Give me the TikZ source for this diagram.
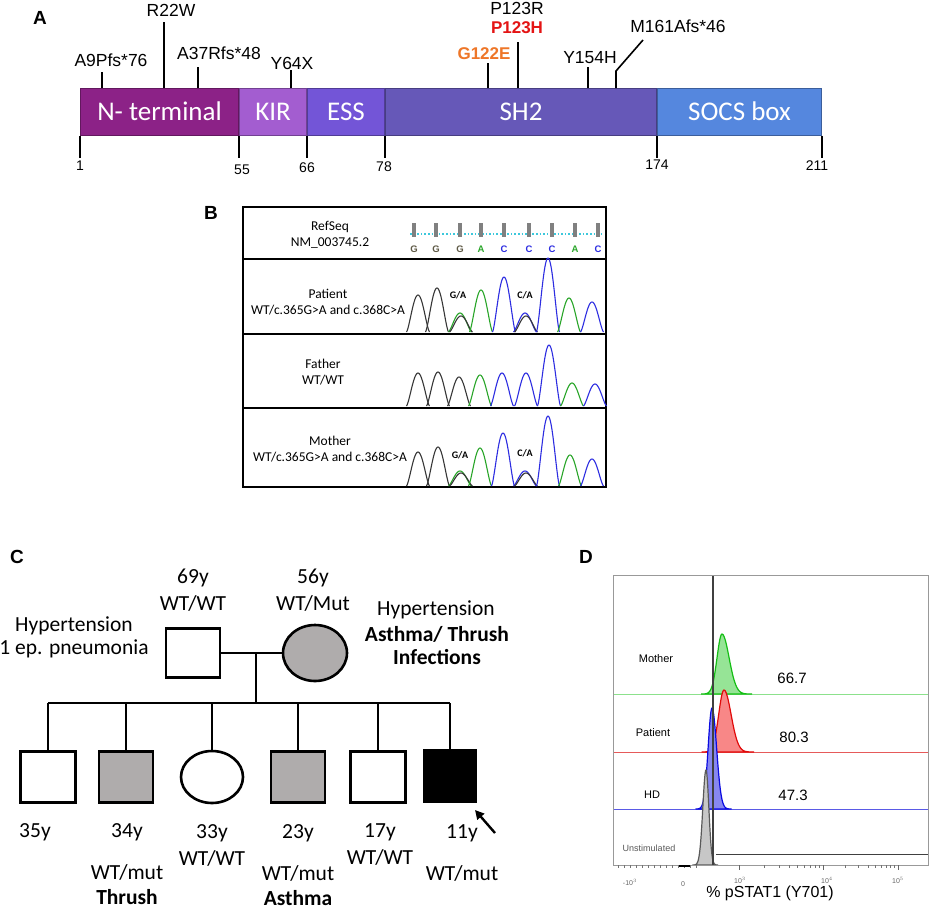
\documentclass[tikz,border=0pt]{standalone}
\usepackage{fontspec}
\setmainfont{Liberation Sans}
\newfontfamily\calfont{Carlito}
\usetikzlibrary{arrows.meta,calc,shapes.geometric}
\newcommand{\myfs}[1]{\fontsize{#1}{#1}\selectfont}
\definecolor{nterm}{RGB}{140,34,135}
\definecolor{kir}{RGB}{163,93,208}
\definecolor{ess}{RGB}{115,85,215}
\definecolor{sh2}{RGB}{102,88,184}
\definecolor{socs}{RGB}{85,135,222}
\definecolor{morange}{RGB}{238,118,40}
\definecolor{mred}{RGB}{228,20,20}
\definecolor{pgray}{RGB}{175,172,172}
\definecolor{cgreen}{RGB}{40,165,40}
\definecolor{cblue}{RGB}{45,45,225}
\definecolor{cblack}{RGB}{55,55,55}
\definecolor{refg}{RGB}{95,90,70}
\definecolor{refcyan}{RGB}{60,200,220}
\definecolor{dgreen}{RGB}{20,190,20}
\definecolor{dgreenf}{RGB}{150,228,150}
\definecolor{dgreenl}{RGB}{140,225,140}
\definecolor{dred}{RGB}{225,10,10}
\definecolor{dredf}{RGB}{248,135,135}
\definecolor{dredl}{RGB}{230,90,90}
\definecolor{dblue}{RGB}{10,10,225}
\definecolor{dbluef}{RGB}{135,135,240}
\definecolor{dbluel}{RGB}{90,90,230}
\newcommand{\cpk}[4]{\draw[#1,line width=1.1pt,line join=round] plot[domain=-11.5:11.5,samples=31,smooth] ({#2+\x},{#3-(#3-#4)*abs(cos(90*\x/11.5))^1.4});}
\newcommand{\dpk}[7]{%
 \pgfmathsetmacro\dpL{#3-3*#6}%
 \pgfmathsetmacro\dpR{#3+3*#7}%
 \filldraw[fill=#2,draw=#1,line width=1.2pt] plot[domain=\dpL:#3,samples=30,smooth] (\x,{#4-#5*exp(-((\x-#3)/#6)^2)}) -- plot[domain=#3:\dpR,samples=30,smooth] (\x,{#4-#5*exp(-((\x-#3)/#7)^2)}) -- cycle;}
\begin{document}
\begin{tikzpicture}[x=1pt,y=-1pt,
 plabel/.style={font=\bfseries\myfs{19}, inner sep=0},
 seg/.style={fill=#1, draw=#1!70!black, line width=1pt, minimum height=47pt, inner sep=0, text=white, font=\calfont\myfs{27}, anchor=west},
 mlab/.style={font=\myfs{17.5}, inner sep=0},
 mline/.style={line width=1.6pt},
 tlab/.style={font=\myfs{14}, inner sep=0},
 btxt/.style={font=\calfont\myfs{13.5}, inner sep=0, align=center},
 gtxt/.style={font=\calfont\bfseries\myfs{10}, inner sep=0},
 ped/.style={line width=2.6pt},
 sq/.style={draw, line width=2.6pt, minimum width=54pt, minimum height=51pt, inner sep=0},
 ell/.style={draw, ellipse, line width=2.6pt, inner sep=0},
 ptxt/.style={font=\calfont\myfs{21.5}, inner sep=0},
 pbold/.style={font=\calfont\bfseries\myfs{21.5}, inner sep=0},
 dtxt/.style={font=\myfs{11}, inner sep=0},
 dnum/.style={font=\myfs{15}, inner sep=0},
 axl/.style={font=\myfs{7}, text=black!60, inner sep=0},
 ]
\useasboundingbox (0,0) rectangle (932,913);
\fill[white] (0,0) rectangle (932,913);
% ---------------- Panel A
\node[plabel] (lA) at (40,18) {A};
\node[seg=nterm, minimum width=158pt] (nt) at (80,111.5) {N- terminal};
\node[seg=kir, minimum width=67pt] (kr) at (nt.east) {KIR};
\node[seg=ess, minimum width=77pt] (es) at (kr.east) {ESS};
\node[seg=sh2, minimum width=271pt] (sh) at (es.east) {SH2};
\node[seg=socs, minimum width=164pt] (sc) at (sh.east) {SOCS box};
\foreach \n in {nt.south west, kr.south west, es.south west, sh.south west, sc.south west, sc.south east}
  \draw[mline] (\n) -- ++(0,22);
\node[tlab] (t1) at (80,166) {1};
\node[tlab] (t55) at (242,170) {55};
\node[tlab] (t66) at (307,168) {66};
\node[tlab] (t78) at (384,167) {78};
\node[tlab] (t174) at (657,165) {174};
\node[tlab] (t211) at (817,166) {211};
% mutations
\draw[mline] (102,88) -- (102,72);
\node[mlab] (m1) at (111,60) {A9Pfs*76};
\draw[mline] (164,88) -- (164,22);
\node[mlab] (m2) at (171,10) {R22W};
\draw[mline] (198,88) -- (198,67);
\node[mlab] (m3) at (219,53) {A37Rfs*48};
\draw[mline] (291,88) -- (291,70);
\node[mlab] (m4) at (292,63) {Y64X};
\draw[mline] (488,88) -- (488,63);
\node[mlab, font=\bfseries\myfs{17}, text=morange] (m5) at (484,54) {G122E};
\draw[mline] (518,88) -- (518,42);
\node[mlab, font=\bfseries\myfs{17}, text=mred] (m6) at (517,28) {P123H};
\node[mlab] (m7) at (517,8) {P123R};
\draw[mline] (588,88) -- (588,67);
\node[mlab] (m8) at (590,58) {Y154H};
\draw[mline] (616,88) -- (616,71) -- (643,40);
\node[mlab] (m9) at (678,26) {M161Afs*46};
% ---------------- Panel B
\node[plabel] (lB) at (211,213) {B};
\draw[line width=1.4pt] (243,207) rectangle (606,487);
\draw[line width=1.4pt] (243,259) -- (606,259) (243,334) -- (606,334) (243,408) -- (606,408);
\node[btxt] (rs) at (330,235) {RefSeq\\[3pt]NM\_003745.2};
\node[btxt] (pt) at (328,302) {Patient\\[3pt]WT/c.365G>A and c.368C>A};
\node[btxt] (fa2) at (323,372) {Father\\[3pt]WT/WT};
\node[btxt] (mo2) at (330,449) {Mother\\[3pt]WT/c.365G>A and c.368C>A};
\draw[refcyan, dotted, line width=1.6pt] (410,234) -- (604,234);
\foreach \px/\pc/\pl in {414/refg/G, 436/refg/G, 460/refg/G, 481/cgreen/A, 504/cblue/C, 529/cblue/C, 552/cblue/C, 575/cgreen/A, 598/cblue/C} {
  \fill[black!50] (\px-1.6,223) rectangle (\px+1.6,237);
  \node[font=\bfseries\myfs{9.5}, text=\pc, inner sep=0] at (\px,249) {\pl};
}
% patient
\cpk{cblack}{418}{332}{295}
\cpk{cblack}{437}{332}{288}
\cpk{cgreen}{460}{332}{313}
\cpk{cblack}{461}{332}{316}
\cpk{cgreen}{481}{332}{290}
\cpk{cblue}{504}{332}{277}
\cpk{cblue}{525}{332}{313}
\cpk{cblack}{526}{332}{316}
\cpk{cblue}{548}{332}{258}
\cpk{cgreen}{569}{332}{298}
\cpk{cblue}{592}{332}{302}
\node[gtxt] (ga1) at (458,295) {G/A};
\node[gtxt] (ca1) at (525,295) {C/A};
% father
\cpk{cblack}{418}{406}{373}
\cpk{cblack}{438}{406}{372}
\cpk{cblack}{459}{406}{377}
\cpk{cgreen}{480}{406}{375}
\cpk{cblue}{502}{406}{373}
\cpk{cblue}{526}{406}{373}
\cpk{cblue}{549}{406}{345}
\cpk{cgreen}{572}{406}{383}
\cpk{cblue}{595}{406}{384}
% mother
\cpk{cblack}{418}{486}{452}
\cpk{cblack}{438}{486}{447}
\cpk{cgreen}{460}{486}{471}
\cpk{cblack}{461}{486}{473}
\cpk{cgreen}{480}{486}{448}
\cpk{cblue}{503}{486}{433}
\cpk{cblue}{525}{486}{471}
\cpk{cblack}{526}{486}{473}
\cpk{cblue}{548}{486}{416}
\cpk{cgreen}{570}{486}{455}
\cpk{cblue}{592}{486}{459}
\node[gtxt] (ga2) at (460,455) {G/A};
\node[gtxt] (ca2) at (525,453) {C/A};
% ---------------- Panel C
\node[plabel] (lC) at (17,557) {C};
\node[sq, minimum width=54pt, minimum height=49pt] (fa) at (193,653) {};
\node[ell, fill=pgray, minimum width=64pt, minimum height=56pt] (mo) at (315,653) {};
\coordinate (mid) at (256,653);
\coordinate (sib) at (256,703);
\coordinate (sibL) at (48,703);
\coordinate (sibR) at (450,703);
\draw[ped] (fa.east) -- (mo.west);
\draw[ped] (mid) -- (sib);
\draw[ped] (sibL) -- (sibR);
\node[sq, minimum width=55pt] (c1) at (48,777) {};
\node[sq, fill=pgray] (c2) at (126,777) {};
\node[ell, minimum width=62pt, minimum height=52pt] (c3) at (212,777) {};
\node[sq, fill=pgray] (c4) at (298,777) {};
\node[sq, minimum width=55pt] (c5) at (378,777) {};
\node[sq, fill=black, minimum width=52pt] (c6) at (450,776) {};
\foreach \c in {c1,c2,c3,c4,c5,c6}
  \draw[ped] (\c.north) -- (\c.north |- sib);
\node[ptxt] (fage) at (193,578) {69y};
\node[ptxt] (fgen) at (193,603) {WT/WT};
\node[ptxt] (mage) at (313,578) {56y};
\node[ptxt] (mgen) at (313,603) {WT/Mut};
\node[ptxt] (fh1) at (74,626) {Hypertension};
\node[ptxt] (fh2) at (74,649) {1 ep. pneumonia};
\node[ptxt] (mh1) at (436,610) {Hypertension};
\node[pbold] (mh2) at (437,634) {Asthma/ Thrush};
\node[pbold] (mh3) at (437,657) {Infections};
\node[ptxt] (a1) at (35,832) {35y};
\node[ptxt] (a2) at (127,832) {34y};
\node[ptxt] (g2) at (127,872) {WT/mut};
\node[pbold] (d2) at (127,897) {Thrush};
\node[ptxt] (a3) at (212,833) {33y};
\node[ptxt] (g3) at (212,858) {WT/WT};
\node[ptxt] (a4) at (298,833) {23y};
\node[ptxt] (g4) at (298,873) {WT/mut};
\node[pbold] (d4) at (298,898) {Asthma};
\node[ptxt] (a5) at (380,832) {17y};
\node[ptxt] (g5) at (380,857) {WT/WT};
\node[ptxt] (a6) at (462,833) {11y};
\node[ptxt] (g6) at (462,873) {WT/mut};
\coordinate (arT) at (495,833);
\coordinate (arH) at (475,810);
\draw[line width=2.4pt, -{Triangle[length=9pt,width=9pt]}] (arT) -- (arH);
% ---------------- Panel D
\node[plabel] (lD) at (586,557) {D};
\draw[dgreenl, line width=1pt] (613,694) -- (928,694);
\draw[dredl, line width=1pt] (613,752) -- (928,752);
\draw[dbluel, line width=1pt] (613,809) -- (928,809);
\draw[black!75, line width=0.9pt] (716,854) -- (928,854);
\dpk{dgreen}{dgreenf}{722}{694}{60}{7}{10}
\dpk{dred}{dredf}{724}{752}{62}{7.5}{10}
\dpk{dblue}{dbluef}{712}{809}{101}{5.5}{6.5}
\dpk{black!65}{black!22}{706}{865}{95}{4.5}{4}
\draw[black!75, line width=1.1pt] (713,575) -- (713,865);
\draw[black!40, line width=1pt] (613,575) rectangle (928,865);
\node[dtxt] (dm) at (656,659) {Mother};
\node[dtxt] (dp) at (653,733) {Patient};
\node[dtxt] (dh) at (652,795) {HD};
\node[dtxt, font=\myfs{9}, text=black!65] (du) at (649,848) {Unstimulated};
\node[dnum] (n1) at (792,678) {66.7};
\node[dnum] (n2) at (794,737) {80.3};
\node[dnum] (n3) at (793,795) {47.3};
\foreach \xx in {618,624,...,700} \draw[black!55, line width=0.6pt] (\xx,865) -- ++(0,2.5);
\foreach \k in {2,...,9} {
  \draw[black!55, line width=0.6pt] ({739+84*log10(\k)},865) -- ++(0,2.5);
  \draw[black!55, line width=0.6pt] ({823+75*log10(\k)},865) -- ++(0,2.5);
}
\foreach \xx in {739,823,898} \draw[black!60, line width=0.9pt] (\xx,865) -- ++(0,4.5);
\draw[black, line width=2.5pt] (679,866) -- (690,866);
\node[axl] (x1) at (630,882) {-10$^3$};
\node[axl] (x2) at (683,884) {0};
\node[axl] (x3) at (740,880) {10$^3$};
\node[axl] (x4) at (827,880) {10$^4$};
\node[axl] (x5) at (898,880) {10$^5$};
\node[font=\myfs{16}, inner sep=0] (xlab) at (770,893) {\% pSTAT1 (Y701)};
\end{tikzpicture}
\end{document}
